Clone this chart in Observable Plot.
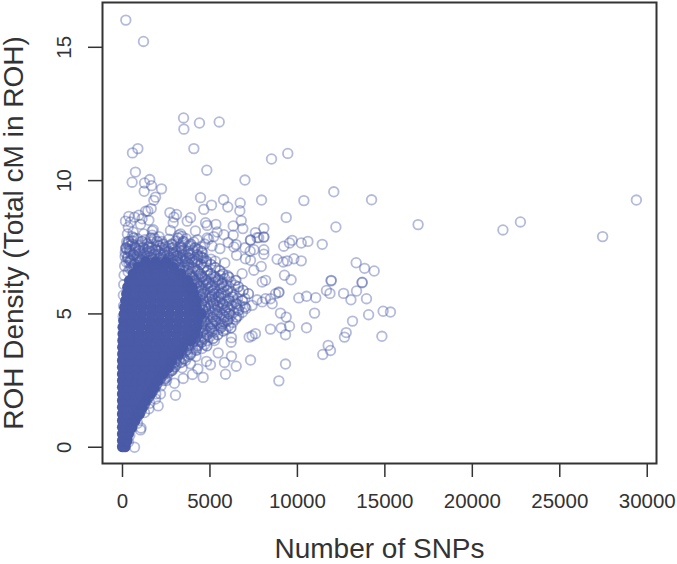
<!DOCTYPE html>
<html>
<head>
<meta charset="utf-8">
<style>html,body{margin:0;padding:0;background:#fff}svg{display:block}</style>
<script src="https://cdn.jsdelivr.net/npm/d3@7"></script>
<script src="https://cdn.jsdelivr.net/npm/@observablehq/plot@0.6"></script>
</head>
<body>
<div id="chart"></div>
<script>
const xLabel = "Number of SNPs";
const yLabel = "ROH Density (Total cM in ROH)";
const xTicks = [0,5000,10000,15000,20000,25000,30000];
const yTicks = [0,5,10,15];

// saturated overplotted mass: [ROH density, SNP counts at that density]
const massRows = [
 [0.02,[0,150]],
 [0.25,[0,150,250]],
 [0.5,[0,170,340]],
 [0.75,[0,200,420,520]],
 [1.0,[0,220,460,700]],
 [1.25,[0,240,500,760,960]],
 [1.5,[0,260,560,860,1120]],
 [1.75,[0,280,620,960,1300]],
 [2.0,[0,300,680,1060,1440,1600]],
 [2.25,[0,320,720,1120,1520,1800]],
 [2.5,[0,340,760,1180,1600,2020]],
 [2.75,[0,360,800,1240,1680,2120,2300]],
 [3.0,[0,380,840,1300,1760,2220,2620]],
 [3.25,[0,400,880,1360,1840,2320,2800]],
 [3.5,[10,420,900,1400,1900,2400,2900,3220]],
 [3.75,[10,440,920,1440,1960,2480,3000,3440]],
 [4.0,[20,460,960,1480,2000,2520,3060,3600,3900]],
 [4.25,[30,480,1000,1520,2040,2560,3100,3640,4140]],
 [4.5,[40,500,1020,1560,2080,2620,3160,3700,4240]],
 [4.75,[70,540,1060,1600,2120,2660,3200,3740,4280]],
 [5.0,[100,580,1100,1640,2160,2700,3240,3780,4320,4500]],
 [5.25,[130,620,1140,1680,2200,2720,3240,3760,4200]],
 [5.5,[180,660,1180,1700,2220,2740,3240,3760,4220]],
 [5.75,[240,720,1220,1720,2240,2740,3240,3760,4060]],
 [6.0,[300,780,1280,1780,2280,2780,3280,3760,3980]],
 [6.25,[400,860,1340,1820,2300,2780,3260,3720]],
 [6.5,[620,1060,1500,1950,2400,2860,3340]],
 [6.75,[900,1400,1850,2350,2900]],
 [6.95,[1320,1900,2500]]
];

// strongly overlapping circles around the mass: [ROH density, SNP counts]
const heavyRows = [
 [7.85,[640,1620,3180]],
 [7.72,[350,1120,1980,3480]],
 [7.62,[560,1400,2320,2820,3900]],
 [7.48,[200,740,1180,1660,2240,2880,3360,4150]],
 [7.35,[420,960,1540,2040,2640,3080,3760,4520]],
 [7.22,[620,1240,1800,2360,2940,3460,4280]],
 [7.1,[300,920,1500,2140,2700,3300,3860,4620]],
 [6.98,[460,1000,3080,3560,4160,4800]],
 [6.86,[700,3200,3800,4480,5050]],
 [6.74,[520,3460,4050,4650,5300]],
 [6.62,[3300,3720,4280,4860,5560]],
 [6.5,[3850,4450,5050,5750]],
 [6.38,[3980,4560,5300,6080]],
 [6.26,[4120,4780,5480,6480]],
 [6.14,[4250,4880,5680]],
 [6.02,[4380,5060,5800,6620]],
 [5.88,[4500,5180,6000,6900]],
 [5.76,[4580,5240,5640,7200]],
 [5.64,[4460,5100,5500,6300]],
 [5.5,[4620,5340,6100,6860]],
 [5.38,[4520,5200,5740,6500]],
 [5.26,[4740,5450,6020,7000]],
 [5.14,[4620,5280,5880,6640]],
 [5.0,[4700,5420,6100]],
 [4.88,[4560,5160,5820,6520]],
 [4.74,[4700,5320,6000]],
 [4.62,[4560,5120,5700]],
 [4.48,[4500,5020,5620,6200]],
 [4.36,[4600,5140,5760]],
 [4.22,[4280,4820,5440]],
 [4.08,[4180,4680,5180]],
 [3.94,[4040,4520]],
 [3.8,[3780,4300,4820]],
 [3.64,[3660,4220]],
 [3.48,[3320,3880]],
 [3.32,[3080,3520]],
 [3.18,[2980,3340]],
 [3.02,[2700,3000]],
 [2.88,[2440,2800]],
 [2.72,[2360]],
 [2.58,[2160,2440]],
 [2.38,[1980]],
 [2.22,[1860]],
 [2.08,[1680]],
 [1.9,[1520]],
 [1.74,[1360]],
 [1.58,[1240]],
 [1.4,[1080]],
 [1.2,[920]],
 [1.02,[720]]
];

// circles overlapping at the edge of the mass: [ROH density, SNP counts]
const fringeRows = [
 [7.55,[420,980,1500,2100,2650,3300,3750]],
 [7.42,[260,760,1280,1880,2400,2980,3520,4300]],
 [7.28,[480,1020,1620,2180,2760,3280,3900]],
 [7.16,[300,820,1360,1920,2500,3060,3620,4460]],
 [7.04,[540,1100,1700,2280,2820,3420,4000]],
 [6.92,[360,860,1460,2040,2580,3180,3700,4300]],
 [6.82,[620,1180,1780,2360,2960,3560]],
 [6.7,[420,920,3240,3800,4160]],
 [6.58,[320,640,3500,3960,4340]],
 [6.44,[3600,3900,4200,4520,4850,5200,5600,6000]],
 [6.32,[3750,4050,4380,4700,5050,5450,5850]],
 [6.2,[3650,3980,4300,4620,4950,5300,5720,6200]],
 [6.08,[3800,4120,4460,4780,5120,5520,5950,6420]],
 [5.95,[3900,4220,4540,4880,5240,5640,6060]],
 [5.82,[4000,4340,4660,5000,5360,5780,6240,6700]],
 [5.7,[4100,4440,4760,5120,5500,5900,6360]],
 [5.58,[4000,4300,4620,4960,5280,5660,6080,6580,7000]],
 [5.45,[4200,4520,4840,5180,5560,5980,6420]],
 [5.32,[4080,4400,4700,5060,5420,5820,6260,6720]],
 [5.2,[4240,4580,4920,5280,5680,6120,6560,7060]],
 [5.06,[4120,4460,4800,5160,5540,5960,6380,6860]],
 [4.94,[4300,4640,5000,5380,5780,6200,6640]],
 [4.8,[4160,4500,4860,5220,5620,6040,6460]],
 [4.68,[4320,4680,5040,5420,5840,6300]],
 [4.55,[4180,4520,4880,5260,5660,6060]],
 [4.42,[4340,4700,5080,5480,5900]],
 [4.3,[4120,4460,4840,5240]],
 [4.15,[3900,4260,4620,5000]],
 [4.0,[3760,4100,4480,4860,5260]],
 [3.85,[3620,3960,4340,4700]],
 [3.7,[3500,3800,4180,4540]],
 [3.55,[3240,3560,3920]],
 [3.4,[3100,3420,3760,4200]],
 [3.25,[2900,3240,3600]],
 [3.1,[2760,3080]],
 [2.95,[2560,2900]],
 [2.8,[2340,2660]],
 [2.65,[2240,2540]],
 [2.5,[2080,2360]],
 [2.3,[1900,2200]],
 [2.15,[1760]],
 [2.0,[1620,1900]],
 [1.82,[1440]],
 [1.65,[1280,1560]],
 [1.5,[1140]],
 [1.3,[1000,1260]],
 [1.1,[780]],
 [0.9,[620,860]],
 [0.7,[520]],
 [0.45,[420]],
 [0.2,[340]]
];

// individually visible circles
const ringSnps = [
 190,1200,3490,4400,5530,3510,4080,880,570,9450,8520,4820,740,7000,550,1560,1260,1660,2230,1240,
 12080,1890,1790,14240,4460,5780,7950,10370,5090,6730,6020,4650,6710,1640,1450,1320,2710,3090,3890,360,
 930,690,170,460,2940,2900,3700,9360,6790,1120,1510,1030,4750,4840,5340,6330,6880,12200,8080,2740,
 4170,610,1700,1760,3320,5410,5800,7600,6330,560,1220,2090,1700,3220,3410,4840,5220,8080,7790,7320,
 11420,10600,10220,9700,9550,9220,8080,7700,7320,6370,5570,8080,7510,6520,8080,7030,7320,8840,9190,9420,
 9800,10220,7930,5850,13360,13840,14390,9260,9640,7510,6840,8180,7990,11930,11930,13700,13700,11660,11860,12640,
 13380,13060,13950,10080,10520,11050,8940,8940,8750,8460,8180,8560,7990,7700,7410,9030,9360,10980,13150,14070,
 14900,15320,9550,9070,8460,9320,10520,12790,12690,14830,7600,7410,7240,6230,6210,11760,11890,11450,9320,8940,
 7320,6230,6500,5830,5890,5470,5030,4800,4610,4310,4000,3470,2970,3030,2040,2170,2520,1030,1060,690,
 3890,3410,2840,1890,1510,16900,21750,22750,27450,29380,
 300,520,700,860,1040,1280,1460,1640,1820,2020,2240,2460,2660,2880,3060,3240,3460,3640,3860,4080,
 4280,4480,4700,4920,5120,160,380,640,900,1180,1400,1620,1920,2180,2420,2620,2900,3150,3380,3620,
 3840,4060,4320,4580,220,420,680,980,1240,1520,1780,2060,2320,2600,2880,3120,3420,3700,3980,4240,
 4520,4780,5060,5300,6040,6500,7000,7300,
 60,40,30,50,70,90,120,150,190,240,280,330
];
const ringRoh = [
 16.02,15.22,12.35,12.16,12.2,11.93,11.2,11.2,11.04,11.02,10.81,10.39,10.32,10.02,9.94,10.04,9.91,9.81,9.69,9.6,
 9.58,9.38,9.26,9.28,9.36,9.28,9.27,9.25,9.08,9.16,9.01,8.92,8.87,8.95,8.86,8.85,8.8,8.73,8.61,8.66,
 8.7,8.63,8.48,8.45,8.63,8.42,8.48,8.62,8.5,8.57,8.51,8.36,8.42,8.32,8.36,8.3,8.2,8.26,8.21,8.13,
 8.11,8.07,8.11,8.16,8.0,8.07,7.97,8.05,7.95,7.9,8.0,7.9,7.95,7.95,7.91,7.85,7.9,7.88,7.86,7.78,
 7.61,7.72,7.66,7.76,7.66,7.54,7.89,7.86,7.76,7.51,7.45,7.41,7.41,7.2,7.24,7.07,7.01,7.05,6.95,6.99,
 7.07,6.99,6.78,6.91,6.92,6.71,6.61,6.45,6.28,6.64,6.51,6.26,6.2,6.26,6.24,6.19,6.17,5.88,5.77,5.77,
 5.86,5.53,5.57,5.6,5.66,5.61,5.82,5.8,5.76,5.57,5.57,5.38,5.45,5.53,5.32,5.03,4.88,5.03,4.73,4.97,
 5.1,5.07,4.54,4.47,4.43,4.22,4.48,4.3,4.13,4.16,4.26,4.18,4.13,4.11,3.94,3.82,3.63,3.48,3.12,2.49,
 3.27,3.41,3.04,3.18,2.74,3.54,3.09,3.22,2.62,2.94,2.73,2.58,2.4,1.95,1.55,2.0,2.5,0.65,0.72,0.0,
 3.13,2.98,2.88,1.81,1.44,8.35,8.15,8.45,7.9,9.27,
 7.62,7.75,7.55,7.82,7.6,7.78,7.5,7.7,7.85,7.58,7.72,7.52,7.8,7.6,7.74,7.5,7.66,7.82,7.56,7.7,
 7.78,7.52,7.62,7.8,7.55,7.3,7.42,7.2,7.38,7.15,7.32,7.12,7.4,7.22,7.34,7.1,7.3,7.18,7.36,7.08,
 7.24,7.4,7.14,7.3,6.95,7.02,6.9,7.05,6.98,7.02,6.92,7.06,6.96,7.04,6.9,7.08,6.98,7.1,6.94,7.02,
 7.12,6.92,7.05,6.98,7.68,7.6,7.48,7.35,
 5.3,4.9,4.5,5.7,6.1,6.45,6.8,7.15,7.45,7.7,8.0,8.25
];

const ink = "#333";
const blue = "#4a5aa6";
const fromRows = rows => rows.flatMap(([roh, snps]) => snps.map(s => ({snps: s, roh})));
const massPoints = fromRows(massRows);
const heavyPoints = fromRows(heavyRows);
const ringPoints = [...ringSnps.map((s, i) => ({snps: s, roh: ringRoh[i]})), ...fromRows(fringeRows)];

const chart = Plot.plot({
  width: 677, height: 564,
  marginLeft: 102, marginRight: 21, marginTop: 2, marginBottom: 101,
  x: {domain: [-1143, 30530]},
  y: {domain: [-0.61, 16.68]},
  style: {fontFamily: "Liberation Sans, Arial, sans-serif", background: "#fff", overflow: "visible"},
  marks: [
    Plot.dot(massPoints, {x: "snps", y: "roh", r: 5.6, fill: blue, stroke: blue, strokeWidth: 0}),
    Plot.dot(heavyPoints, {x: "snps", y: "roh", r: 4.8, stroke: blue, strokeWidth: 1.8, strokeOpacity: 0.6, fill: "none"}),
    Plot.dot(ringPoints, {x: "snps", y: "roh", r: 4.8, stroke: blue, strokeWidth: 1.8, strokeOpacity: 0.42, fill: "none"}),
    Plot.frame({stroke: ink, strokeWidth: 2}),
    Plot.axisX({ticks: xTicks, tickSize: 14, tickPadding: 16, tickFormat: d => String(d), fontSize: 20.5, stroke: ink, color: ink, strokeWidth: 1.5, label: null}),
    Plot.axisY({ticks: yTicks, tickSize: 14, tickPadding: 18, tickRotate: -90, textAnchor: "middle", tickFormat: d => String(d), fontSize: 20.5, stroke: ink, color: ink, strokeWidth: 1.5, label: null}),
    Plot.text([xLabel], {text: d => d, frameAnchor: "bottom", textAnchor: "middle", lineAnchor: "middle", dy: 86, fontSize: 28, fill: ink}),
    Plot.text([yLabel], {text: d => d, frameAnchor: "left", textAnchor: "middle", rotate: -90, lineAnchor: "middle", dx: -88, fontSize: 28, fill: ink})
  ]
});
document.getElementById("chart").append(chart);
</script>
</body>
</html>
